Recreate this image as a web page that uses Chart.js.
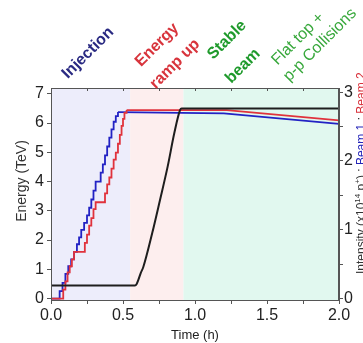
<!DOCTYPE html>
<html>
<head>
<meta charset="utf-8">
<script src="https://cdn.jsdelivr.net/npm/chart.js@4.4.1/dist/chart.umd.min.js"></script>
<style>
  html, body { margin: 0; padding: 0; background: #fff; overflow: hidden; }
  #wrap { position: absolute; left: 0; top: 0; width: 380px; height: 343px; }
</style>
</head>
<body>
<div id="wrap"><canvas id="lhcChart" width="380" height="343"></canvas></div>
<script>
// Energie (TeV, axe gauche) - courbe noire
const energyTime = [0, 0.583, 0.595, 0.606, 0.623, 0.641, 0.703, 0.757, 0.81, 0.856, 0.896, 0.907, 2.0];
const energyTeV = [0.45, 0.45, 0.5, 0.63, 0.87, 1.08, 2.24, 3.37, 4.51, 5.65, 6.44, 6.5, 6.5];

// Intensite faisceau 1 (x10^14 p+, axe droit) - injection par paliers
const beam1Time = [0, 0.06, 0.08, 0.10, 0.12, 0.14, 0.16, 0.18, 0.195, 0.21, 0.23, 0.25, 0.265,
    0.28, 0.295, 0.31, 0.345, 0.36, 0.375, 0.39, 0.405, 0.42, 0.435, 0.45, 0.465];
const beam1Intensity = [0, 0.11, 0.23, 0.36, 0.47, 0.57, 0.68, 0.79, 0.89, 1.0, 1.10, 1.21, 1.32,
    1.44, 1.57, 1.70, 1.83, 1.95, 2.08, 2.21, 2.34, 2.46, 2.57, 2.65, 2.71];
const beam1DecayTime = [0.465, 1.2, 2.0];
const beam1Decay = [2.71, 2.69, 2.54];

// Intensite faisceau 2
const beam2Time = [0, 0.085, 0.10, 0.115, 0.13, 0.145, 0.16, 0.235, 0.25, 0.265, 0.28, 0.295, 0.31,
    0.375, 0.39, 0.405, 0.42, 0.435, 0.45, 0.465, 0.478, 0.49, 0.50, 0.51, 0.525];
const beam2Intensity = [0, 0.13, 0.25, 0.38, 0.47, 0.57, 0.68, 0.81, 0.93, 1.06, 1.17, 1.30, 1.40,
    1.53, 1.66, 1.76, 1.89, 2.02, 2.12, 2.25, 2.38, 2.51, 2.61, 2.70, 2.74];
const beam2DecayTime = [0.525, 1.22, 2.0];
const beam2Decay = [2.74, 2.74, 2.59];

// Phases du cycle
const phaseEdges = [0, 0.55, 0.92, 2.0];
const phaseNames = [['Injection'], ['Energy', 'ramp up'], ['Stable', 'beam'], ['Flat top +', 'p-p Collisions']];

const FONT = '"Liberation Sans", Arial, sans-serif';

function toPoints(xs, ys) {
    return xs.map((x, i) => ({ x: x, y: ys[i] }));
}

// fonds colores des phases
const phaseBands = {
    id: 'phaseBands',
    beforeDraw(chart) {
        const { ctx, chartArea, scales } = chart;
        const colors = ['#ededfb', '#fdeeee', '#e1f8ef'];
        ctx.save();
        for (let i = 0; i < colors.length; i++) {
            const x0 = scales.x.getPixelForValue(phaseEdges[i]);
            const x1 = scales.x.getPixelForValue(phaseEdges[i + 1]);
            ctx.fillStyle = colors[i];
            ctx.fillRect(x0, chartArea.top, x1 - x0, chartArea.bottom - chartArea.top);
        }
        ctx.restore();
    }
};

// cadre, titres et etiquettes de phases
const decorations = {
    id: 'decorations',
    afterDraw(chart) {
        const { ctx, chartArea, scales } = chart;
        ctx.save();
        ctx.strokeStyle = '#555';
        ctx.lineWidth = 1;
        ctx.strokeRect(chartArea.left + 0.5, chartArea.top + 0.5,
            chartArea.right - chartArea.left - 1, chartArea.bottom - chartArea.top);
        // petits traits en haut
        scales.x.ticks.forEach(t => {
            const px = Math.round(scales.x.getPixelForValue(t.value)) + 0.5;
            ctx.beginPath();
            ctx.moveTo(px, chartArea.top);
            ctx.lineTo(px, chartArea.top + 3);
            ctx.stroke();
        });

        // titre axe gauche
        ctx.fillStyle = '#333';
        ctx.font = '14px ' + FONT;
        ctx.textAlign = 'center';
        ctx.textBaseline = 'middle';
        ctx.translate(22, 181);
        ctx.rotate(-Math.PI / 2);
        ctx.fillText('Energy (TeV)', 0, 0);
        ctx.setTransform(1, 0, 0, 1, 0, 0);

        // titre axe droit, multicolore
        const parts = [
            { t: 'Intensity (x10', c: '#333', sup: false },
            { t: '14', c: '#333', sup: true },
            { t: ' p', c: '#333', sup: false },
            { t: '+', c: '#333', sup: true },
            { t: ') : ', c: '#333', sup: false },
            { t: 'Beam 1', c: '#2424b8', sup: false },
            { t: ' : ', c: '#333', sup: false },
            { t: 'Beam 2', c: '#d8303a', sup: false }
        ];
        ctx.translate(362, 274);
        ctx.rotate(-Math.PI / 2);
        ctx.textAlign = 'left';
        ctx.textBaseline = 'middle';
        let pos = 0;
        parts.forEach(p => {
            ctx.font = (p.sup ? '8px ' : '12px ') + FONT;
            ctx.fillStyle = p.c;
            ctx.fillText(p.t, pos, p.sup ? -4 : 0);
            pos += ctx.measureText(p.t).width;
        });
        ctx.setTransform(1, 0, 0, 1, 0, 0);

        // etiquettes des phases, inclinees
        const layout = [
            [{ x: 88, y: 53 }],
            [{ x: 157, y: 45 }, { x: 175, y: 64 }],
            [{ x: 227, y: 40 }, { x: 243, y: 66 }],
            [{ x: 298, y: 39 }, { x: 320, y: 45 }]
        ];
        const styles = [
            { c: '#2a2a82', w: 'bold ' },
            { c: '#d8343c', w: 'bold ' },
            { c: '#1f9a2c', w: 'bold ' },
            { c: '#38a83c', w: '' }
        ];
        ctx.textAlign = 'center';
        ctx.textBaseline = 'middle';
        phaseNames.forEach((lines, i) => {
            lines.forEach((txt, j) => {
                ctx.save();
                ctx.translate(layout[i][j].x, layout[i][j].y);
                ctx.rotate(-Math.PI / 4);
                ctx.font = styles[i].w + '16px ' + FONT;
                ctx.fillStyle = styles[i].c;
                ctx.fillText(txt, 0, 0);
                ctx.restore();
            });
        });
        ctx.restore();
    }
};

const ctx = document.getElementById('lhcChart').getContext('2d');

new Chart(ctx, {
    type: 'line',
    data: {
        datasets: [
            {
                label: 'Energy',
                data: toPoints(energyTime, energyTeV),
                yAxisID: 'y',
                borderColor: '#1e1e1e',
                borderWidth: 2,
                pointRadius: 0,
                cubicInterpolationMode: 'monotone',
                fill: false
            },
            {
                label: 'Beam 2',
                data: toPoints(beam2Time, beam2Intensity),
                yAxisID: 'y2',
                borderColor: '#e0323c',
                borderWidth: 1.8,
                pointRadius: 0,
                stepped: 'before',
                fill: false
            },
            {
                label: 'Beam 2 decay',
                data: toPoints(beam2DecayTime, beam2Decay),
                yAxisID: 'y2',
                borderColor: '#e0323c',
                borderWidth: 1.8,
                pointRadius: 0,
                fill: false
            },
            {
                label: 'Beam 1',
                data: toPoints(beam1Time, beam1Intensity),
                yAxisID: 'y2',
                borderColor: '#2222c4',
                borderWidth: 1.8,
                pointRadius: 0,
                stepped: 'before',
                fill: false
            },
            {
                label: 'Beam 1 decay',
                data: toPoints(beam1DecayTime, beam1Decay),
                yAxisID: 'y2',
                borderColor: '#2222c4',
                borderWidth: 1.8,
                pointRadius: 0,
                fill: false
            }
        ]
    },
    options: {
        responsive: false,
        animation: false,
        layout: { padding: { top: 88, left: 0, right: 0, bottom: 0 } },
        plugins: {
            legend: { display: false },
            tooltip: { enabled: false }
        },
        scales: {
            x: {
                type: 'linear',
                min: 0,
                max: 2.0,
                grid: { drawOnChartArea: false, tickLength: 4, color: '#555' },
                border: { color: '#555' },
                ticks: {
                    stepSize: 0.25,
                    autoSkip: false,
                    maxRotation: 0,
                    padding: 2,
                    color: '#222',
                    font: { family: FONT, size: 16 },
                    callback: v => Math.abs(v * 2 - Math.round(v * 2)) < 1e-6 ? v.toFixed(1) : ''
                },
                title: {
                    display: true,
                    text: 'Time (h)',
                    color: '#222',
                    font: { family: FONT, size: 13 },
                    padding: { top: 0, bottom: 0 }
                },
                afterFit: scale => { scale.height = 43; }
            },
            y: {
                position: 'left',
                min: -0.05,
                max: 7.2,
                grid: { drawOnChartArea: false, tickLength: 4, color: '#555' },
                border: { color: '#555' },
                ticks: {
                    stepSize: 0.5,
                    includeBounds: false,
                    padding: 3,
                    color: '#222',
                    font: { family: FONT, size: 16 },
                    callback: v => Number.isInteger(v) ? String(v) : ''
                },
                afterFit: scale => { scale.width = 51; }
            },
            y2: {
                position: 'right',
                min: -0.02,
                max: 3.06,
                grid: { drawOnChartArea: false, tickLength: 4, color: '#555' },
                border: { color: '#555' },
                ticks: {
                    stepSize: 0.5,
                    includeBounds: false,
                    padding: 1,
                    color: '#222',
                    font: { family: FONT, size: 16 },
                    callback: v => Number.isInteger(v) ? String(v) : ''
                },
                afterFit: scale => { scale.width = 41; }
            }
        }
    },
    plugins: [phaseBands, decorations]
});
</script>
</body>
</html>
